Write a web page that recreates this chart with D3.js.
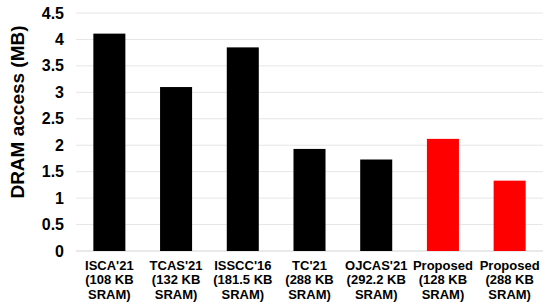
<!DOCTYPE html>
<html>
<head>
<meta charset="utf-8">
<script src="https://cdn.jsdelivr.net/npm/d3@7"></script>
<style>
  body { margin: 0; background: #fff; }
  text { font-family: Arial, 'Liberation Sans', sans-serif; font-weight: bold; fill: #000; }
</style>
</head>
<body>
<svg id="chart"></svg>
<script>
const categories = [
  ['ISCA\'21', '(108 KB', 'SRAM)'],
  ['TCAS\'21', '(132 KB', 'SRAM)'],
  ['ISSCC\'16', '(181.5 KB', 'SRAM)'],
  ['TC\'21', '(288 KB', 'SRAM)'],
  ['OJCAS\'21', '(292.2 KB', 'SRAM)'],
  ['Proposed', '(128 KB', 'SRAM)'],
  ['Proposed', '(288 KB', 'SRAM)'],
];
const values = [4.11, 3.1, 3.85, 1.93, 1.73, 2.12, 1.33];
const isProposed = [false, false, false, false, false, true, true];
const yTicks = [0, 0.5, 1, 1.5, 2, 2.5, 3, 3.5, 4, 4.5];

const margin = { top: 13, right: 7, bottom: 55, left: 76 };
const W = 550, H = 306;
const width = W - margin.left - margin.right;
const height = H - margin.top - margin.bottom;

const svg = d3.select('#chart').attr('width', W).attr('height', H);
const g = svg.append('g').attr('transform', `translate(${margin.left},${margin.top})`);

const x = d3.scaleBand().domain(d3.range(categories.length)).range([0, width]).paddingInner(0.52).paddingOuter(0.26);
const y = d3.scaleLinear().domain([0, 4.5]).range([height, 0]);

// gridlines
g.append('g')
  .selectAll('line')
  .data(yTicks)
  .join('line')
  .attr('x1', 0)
  .attr('x2', width)
  .attr('y1', (d) => y(d))
  .attr('y2', (d) => y(d))
  .attr('stroke', (d) => (d === 0 ? '#d4d4d4' : '#e6e6e6'))
  .attr('stroke-width', 1);

// y tick labels
g.append('g')
  .selectAll('text')
  .data(yTicks)
  .join('text')
  .attr('x', -12)
  .attr('y', (d) => y(d))
  .attr('dy', '0.35em')
  .attr('text-anchor', 'end')
  .style('font-size', '16px')
  .text((d) => d);

// bars
g.append('g')
  .selectAll('rect')
  .data(values)
  .join('rect')
  .attr('x', (d, i) => x(i))
  .attr('y', (d) => y(d))
  .attr('width', x.bandwidth())
  .attr('height', (d) => height - y(d))
  .attr('fill', (d, i) => (isProposed[i] ? '#ff0000' : '#000000'));

// x labels
const xl = g.append('g')
  .selectAll('text')
  .data(categories)
  .join('text')
  .attr('text-anchor', 'middle')
  .style('font-size', '13px')
  .attr('transform', (d, i) => `translate(${x(i) + x.bandwidth() / 2},${height + 19})`);
xl.selectAll('tspan')
  .data((d) => d)
  .join('tspan')
  .attr('x', 0)
  .attr('y', (d, i) => i * 14.4)
  .text((d) => d);

// y axis title
svg.append('text')
  .attr('transform', 'translate(24,112) rotate(-90)')
  .attr('text-anchor', 'middle')
  .style('font-size', '19px')
  .text('DRAM access (MB)');
</script>
</body>
</html>
